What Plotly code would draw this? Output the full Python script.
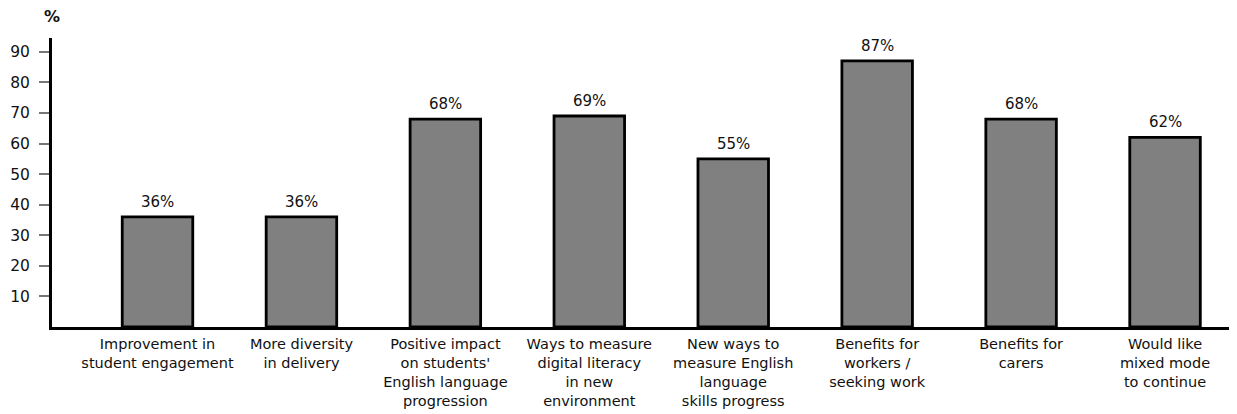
import plotly.graph_objects as go

categories = [
    "Improvement in<br>student engagement",
    "More diversity<br>in delivery",
    "Positive impact<br>on students'<br>English language<br>progression",
    "Ways to measure<br>digital literacy<br>in new<br>environment",
    "New ways to<br>measure English<br>language<br>skills progress",
    "Benefits for<br>workers /<br>seeking work",
    "Benefits for<br>carers",
    "Would like<br>mixed mode<br>to continue",
]
values = [36, 36, 68, 69, 55, 87, 68, 62]
y_ticks = [10, 20, 30, 40, 50, 60, 70, 80, 90]

FONT = "'DejaVu Sans', sans-serif"

fig = go.Figure()
fig.add_trace(go.Bar(
    x=list(range(len(categories))),
    y=values,
    width=0.49,
    marker=dict(color="#808080", line=dict(color="#000000", width=2.8)),
    hoverinfo="skip",
))

for i, v in enumerate(values):
    fig.add_annotation(x=i, y=v, text=f"{v}%", showarrow=False,
                       yanchor="bottom", yshift=4,
                       font=dict(family=FONT, size=15, color="#111"))

fig.add_annotation(xref="paper", yref="paper", x=0, y=1.0, yshift=10,
                   text="<b>%</b>", showarrow=False, xanchor="center", yanchor="bottom",
                   font=dict(family=FONT, size=16, color="#111"))

# page body has an 8px default margin, compensate in the figure margins
fig.update_layout(
    width=1237, height=414,
    margin=dict(l=44, r=8, t=30, b=95),
    paper_bgcolor="white", plot_bgcolor="white",
    showlegend=False,
    font=dict(family=FONT, size=14, color="#111"),
    xaxis=dict(
        range=[-0.733, 7.5],
        tickmode="array",
        tickvals=list(range(len(categories))),
        ticktext=categories,
        showline=True, linecolor="black", linewidth=3,
        showgrid=False, zeroline=False, ticks="",
        tickfont=dict(family=FONT, size=14.5, color="#111"),
        automargin=False,
        ticklabelstandoff=2,
    ),
    yaxis=dict(
        range=[0, 94.5],
        tickvals=y_ticks,
        showline=True, linecolor="black", linewidth=3,
        showgrid=False, zeroline=False,
        ticks="outside", ticklen=10, tickcolor="#777", tickwidth=1.5,
        tickfont=dict(family=FONT, size=15.5, color="#111"),
        ticklabelstandoff=6,
        automargin=False,
    ),
)

fig.write_html("out.html")
